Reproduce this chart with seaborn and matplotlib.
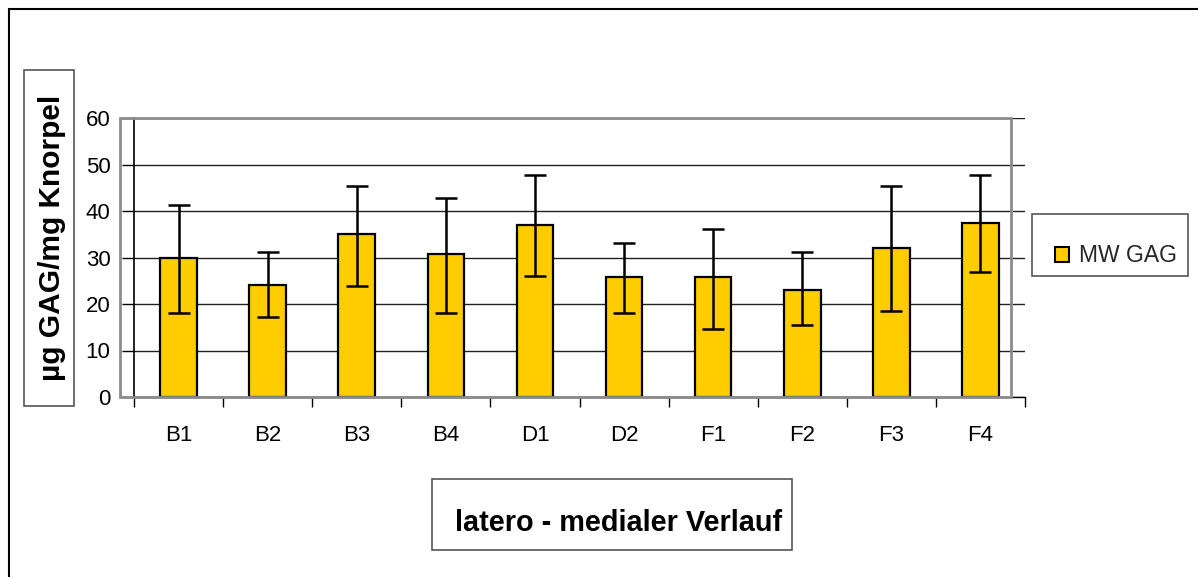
import numpy as np
import pandas as pd
import matplotlib
matplotlib.use("Agg")
import matplotlib.pyplot as plt
from matplotlib.patches import Rectangle, Patch
import seaborn as sns

# GAG content per sampling position (mean with lower/upper error bounds)
positions = ["B1", "B2", "B3", "B4", "D1", "D2", "F1", "F2", "F3", "F4"]
mw_gag = [30.0, 24.0, 35.0, 30.8, 37.0, 25.7, 25.7, 23.1, 32.0, 37.4]
err_low = [11.9, 6.8, 11.1, 12.7, 10.9, 7.6, 11.0, 7.6, 13.5, 10.5]
err_high = [11.2, 7.1, 10.4, 12.0, 10.8, 7.5, 10.4, 8.0, 13.4, 10.4]
y_ticks = [0, 10, 20, 30, 40, 50, 60]

bar_color = "#FFCC00"
font = "Liberation Sans"

sns.set_theme(style="white")
plt.rcParams["font.family"] = [font, "DejaVu Sans"]

W, H = 1198, 577
fig = plt.figure(figsize=(W / 100, H / 100), dpi=100)


def fx(px):
    return px / W


def fy(py):
    return 1 - py / H


ax = fig.add_axes([fx(134), fy(397), fx(1025) - fx(134), fy(118) - fy(397)])

df = pd.DataFrame({"Position": positions, "MW GAG": mw_gag})
sns.barplot(data=df, x="Position", y="MW GAG", color=bar_color, width=0.41,
            edgecolor="black", linewidth=1.6, saturation=1, errorbar=None, ax=ax)

xpos = np.arange(len(positions))
ax.errorbar(xpos, mw_gag, yerr=[err_low, err_high], fmt="none", ecolor="black",
            elinewidth=1.8, capsize=8, capthick=1.8, zorder=5)

ax.set_xlim(-0.5, len(positions) - 0.5)
ax.set_ylim(0, 60)
ax.set_yticks(y_ticks)
ax.set_yticklabels([str(v) for v in y_ticks])
ax.set_xlabel("")
ax.set_ylabel("")

# horizontal grid behind bars
ax.set_axisbelow(True)
ax.yaxis.grid(True, color="#222222", linewidth=1.0)
ax.xaxis.grid(False)

for side in ["top", "right"]:
    ax.spines[side].set_visible(False)
ax.spines["left"].set_color("black")
ax.spines["left"].set_linewidth(1.2)
ax.spines["bottom"].set_color("black")
ax.spines["bottom"].set_linewidth(1.0)

ax.tick_params(axis="y", which="major", direction="out", length=9, width=1.0,
               color="black", labelsize=16, pad=8, left=True)
ax.tick_params(axis="x", which="major", length=0, labelsize=16, pad=20)
ax.set_xticks(np.arange(-0.5, len(positions), 1.0), minor=True)
ax.tick_params(axis="x", which="minor", direction="out", length=7, width=1.0,
               color="black", bottom=True)
for lab in ax.get_xticklabels() + ax.get_yticklabels():
    lab.set_color("black")

# grey plot-area frame
fig.add_artist(Rectangle((fx(120), fy(397)), fx(1011) - fx(120), fy(118) - fy(397),
                         transform=fig.transFigure, fill=False,
                         edgecolor="#8c8c8c", linewidth=2.0, zorder=3))

# outer chart border
fig.add_artist(Rectangle((fx(9), fy(590)), fx(1210) - fx(9), fy(9) - fy(590),
                         transform=fig.transFigure, fill=False,
                         edgecolor="black", linewidth=1.5))

# y-axis title in a box
fig.add_artist(Rectangle((fx(24), fy(406)), fx(74) - fx(24), fy(70) - fy(406),
                         transform=fig.transFigure, fill=False,
                         edgecolor="#555555", linewidth=1.2))
fig.text(fx(52), fy(238), "µg GAG/mg Knorpel", rotation=90, ha="center",
         va="center", fontsize=21.5, fontweight="bold", color="black")

# x-axis title in a box
fig.add_artist(Rectangle((fx(432), fy(550)), fx(792) - fx(432), fy(479) - fy(550),
                         transform=fig.transFigure, fill=False,
                         edgecolor="#555555", linewidth=1.2))
fig.text(fx(618.5), fy(531), "latero - medialer Verlauf", ha="center",
         va="baseline", fontsize=20.8, fontweight="bold", color="black")

# legend in a box
fig.add_artist(Rectangle((fx(1032), fy(276)), fx(1188) - fx(1032), fy(214) - fy(276),
                         transform=fig.transFigure, fill=False,
                         edgecolor="#555555", linewidth=1.2))
handle = Patch(facecolor=bar_color, edgecolor="black", linewidth=1.5, label="MW GAG")
fig.legend(handles=[handle], loc="center left", bbox_to_anchor=(fx(1055), fy(256)),
           frameon=False, fontsize=16.5, handlelength=0.6, handleheight=0.6,
           handletextpad=0.45, borderpad=0, borderaxespad=0)

fig.savefig("out.png", dpi=100)
